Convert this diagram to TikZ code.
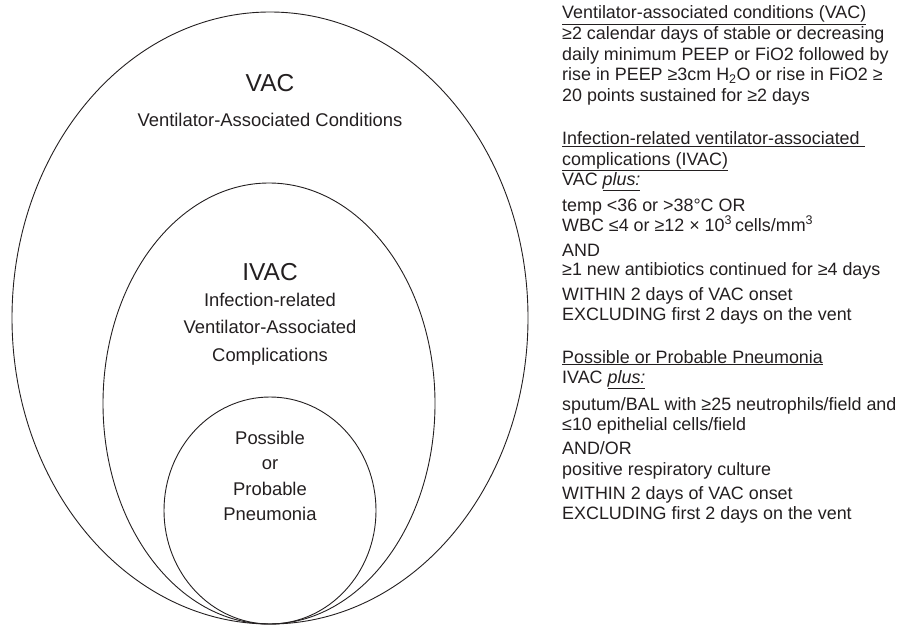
\documentclass[tikz,border=0pt]{standalone}
\usepackage{fontspec}
\setmainfont{Liberation Sans}
\definecolor{ink}{HTML}{231F20}
\begin{document}
\begin{tikzpicture}[x=1pt,y=-1pt,
  ring/.style={draw=ink,line width=0.9pt},
  big/.style={font=\fontsize{24.5}{28}\selectfont,text=ink,inner sep=0pt},
  mid/.style={font=\fontsize{18.4}{26}\selectfont,text=ink,inner sep=0pt,align=center},
  rt/.style={font=\fontsize{17.9}{20}\selectfont,text=ink,inner sep=0pt,anchor=base west}]
\useasboundingbox (0,0) rectangle (904,626);
\draw[ring] (270,318) ellipse [x radius=258, y radius=306];
\draw[ring] (269,403.5) ellipse [x radius=166, y radius=220.5];
\draw[ring] (270,510.5) ellipse [x radius=106, y radius=113.5];
% circle labels
\node[big] (vac) at (270,83) {VAC};
\node[mid] (vacs) at (270,120) {Ventilator-Associated Conditions};
\node[big] (ivac) at (270,272) {IVAC};
\node[mid,font=\fontsize{18.4}{27.5}\selectfont] (ivacs) at (270,329) {Infection-related\\Ventilator-Associated\\Complications};
\node[mid,font=\fontsize{18.4}{25.3}\selectfont] (pp) at (270,476) {Possible\\or\\Probable\\Pneumonia};
% right-hand text
\def\X{562}
\node[rt] (r1) at (\X,19) {\underline{Ventilator-associated conditions (VAC)}};
\node[rt] (r2) at (\X,39.5) {≥2 calendar days of stable or decreasing};
\node[rt] (r3) at (\X,60) {daily minimum PEEP or FiO2 followed by};
\node[rt] (r4) at (\X,80.5) {rise in PEEP ≥3cm H\textsubscript{2}O or rise in FiO2 ≥};
\node[rt] (r5) at (\X,101) {20 points sustained for ≥2 days};
\node[rt] (r6) at (\X,144.5) {\underline{Infection-related ventilator-associated\ }};
\node[rt] (r7) at (\X,165) {\underline{complications (IVAC)}};
\node[rt] (r8) at (\X,185) {VAC \underline{\textit{plus:}}};
\node[rt] (r9) at (\X,211.5) {temp <36 or >38°C OR};
\node[rt] (r10) at (\X,231) {WBC ≤4 or ≥12 × 10\textsuperscript{3}\,cells/mm\textsuperscript{3}};
\node[rt] (r11) at (\X,256) {AND};
\node[rt] (r12) at (\X,275.5) {≥1 new antibiotics continued for ≥4 days};
\node[rt] (r13) at (\X,300) {WITHIN 2 days of VAC onset};
\node[rt] (r14) at (\X,320) {EXCLUDING first 2 days on the vent};
\node[rt] (r15) at (\X,363) {\underline{Possible or Probable Pneumonia}};
\node[rt] (r16) at (\X,383) {IVAC \underline{\textit{plus:}}};
\node[rt] (r17) at (\X,410) {sputum/BAL with ≥25 neutrophils/field and};
\node[rt] (r18) at (\X,430) {≤10 epithelial cells/field};
\node[rt] (r19) at (\X,454) {AND/OR};
\node[rt] (r20) at (\X,475) {positive respiratory culture};
\node[rt] (r21) at (\X,499) {WITHIN 2 days of VAC onset};
\node[rt] (r22) at (\X,519) {EXCLUDING first 2 days on the vent};
\end{tikzpicture}
\end{document}
